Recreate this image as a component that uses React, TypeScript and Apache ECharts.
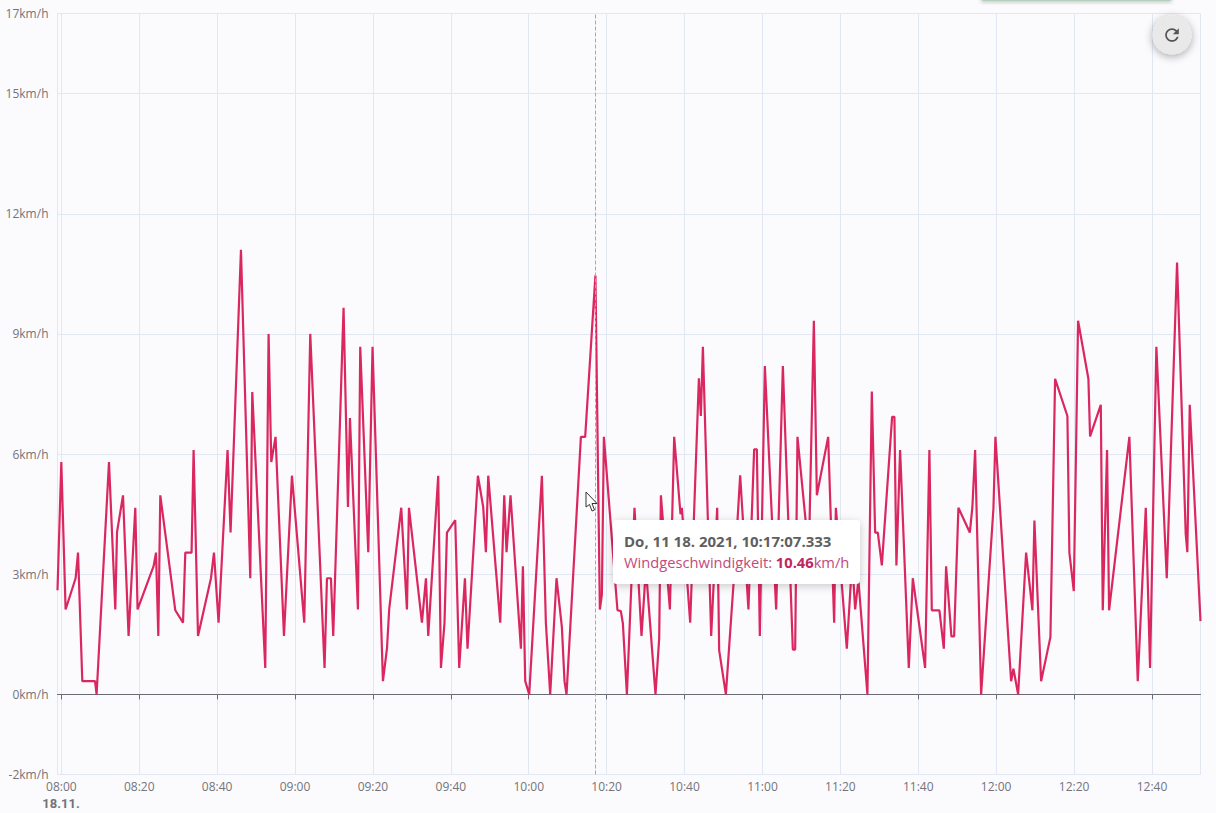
import React, { useEffect, useRef } from "react";
import * as echarts from "echarts";

// minutes after 08:00
const minutes = [
  -0.98, 0, 1.1, 3.67, 4.29, 5.39, 8.65, 9.06, 12.24, 13.86, 14.3, 15.84, 17.27, 18.99, 19.58, 23.69, 24.31, 24.9, 25.41,
  29.26, 31.24, 31.83, 33.44, 33.96, 35.09, 38.42, 39.19, 40.37, 42.68, 43.45, 46.12, 48.51, 49.02, 52.36, 53.21, 53.9,
  55.0, 57.16, 59.21, 62.37, 63.91, 67.58, 68.2, 69.22, 69.81, 72.46, 73.59, 74.1, 76.15, 76.74, 78.8, 79.9, 82.57,
  83.6, 84.19, 87.27, 88.73, 89.25, 92.58, 93.61, 94.2, 96.76, 97.46, 98.38, 99.0, 101.13, 102.15, 103.62, 104.28,
  106.95, 108.31, 109.0, 109.6, 112.68, 113.71, 114.3, 115.32, 117.99, 118.5, 119.1, 120.12, 123.38, 124.4, 125.51,
  127.13, 128.51, 129.18, 129.7, 133.39, 134.49, 137.12, 138.26, 138.78, 139.29, 142.78, 143.65, 144.17, 145.2, 147.15,
  148.95, 150.08, 152.54, 153.49, 153.93, 156.24, 157.34, 158.96, 159.32, 161.45, 163.68, 164.19, 164.71, 166.84,
  168.38, 168.89, 170.61, 172.99, 174.28, 176.4, 177.87, 178.56, 179.33, 180.62, 183.52, 185.24, 187.8, 188.4, 188.99,
  191.92, 193.2, 193.97, 196.87, 198.41, 198.85, 201.66, 203.03, 203.8, 204.64, 206.95, 208.08, 208.93, 209.62, 210.65,
  213.29, 213.88, 214.39, 215.34, 217.57, 218.6, 221.76, 222.86, 223.48, 225.43, 226.56, 227.15, 228.51, 229.21,
  230.31, 233.24, 233.9, 234.6, 236.14, 239.3, 239.81, 243.84, 244.43, 245.64, 247.69, 249.31, 249.82, 251.54, 253.93,
  255.13, 258.29, 258.8, 259.93, 261.03, 263.68, 264.11, 266.86, 267.37, 268.47, 268.99, 274.2, 276.35, 278.41, 279.51,
  281.13, 283.8, 286.44, 288.67, 289.08, 289.7, 292.46,
];

// km/h
const windSpeed = [
  2.6, 5.8, 2.12, 2.9, 3.54, 0.33, 0.33, 0, 5.8, 2.12, 4.05, 4.97, 1.46, 4.66, 2.12, 3.2, 3.54, 1.46, 4.97,
  2.1, 1.79, 3.54, 3.54, 6.1, 1.46, 2.9, 3.54, 1.79, 6.1, 4.04, 11.1, 2.9, 7.55, 0.66, 9.0, 5.8,
  6.43, 1.46, 5.46, 1.79, 9.0, 0.66, 2.9, 2.9, 1.46, 9.65, 4.68, 6.9, 2.12, 8.68, 3.55, 8.68, 0.33,
  1.14, 2.14, 4.66, 2.12, 4.66, 1.79, 2.9, 1.46, 5.46, 0.66, 1.8, 4.04, 4.35, 0.66, 2.9, 1.14,
  5.46, 4.68, 3.55, 5.46, 1.79, 4.97, 3.55, 4.97, 1.14, 3.2, 0.33, 0, 5.46, 1.79, 0,
  2.9, 1.68, 0.33, 0, 6.43, 6.43, 10.46, 2.12, 2.5, 6.43, 2.1, 2.08, 1.77, 0, 4.66,
  1.46, 3.14, 0, 1.4, 4.97, 2.12, 6.43, 4.5, 4.66, 1.79, 7.89, 6.95, 8.68, 1.46,
  4.66, 1.1, 0, 3.35, 5.47, 2.12, 6.12, 6.12, 1.46, 8.2, 2.12, 8.2, 1.12, 1.12, 6.43,
  3.5, 9.33, 4.97, 6.43, 1.79, 4.66, 1.14, 3.35, 2.12, 2.85, 0, 7.56, 4.04, 4.04, 3.22,
  6.93, 6.93, 3.22, 6.1, 0.66, 2.9, 0.66, 6.1, 2.1, 2.1, 1.14, 3.2, 1.45, 1.45,
  4.66, 4.04, 4.68, 6.1, 0, 4.64, 6.43, 0.33, 0.64, 0, 3.54, 2.1, 4.34, 0.33, 1.43,
  7.88, 6.95, 3.54, 2.58, 9.33, 7.88, 6.44, 7.23, 2.1, 6.1, 2.1, 6.43, 0.33, 4.66, 0.66,
  8.68, 2.9, 10.78, 4.0, 3.55, 7.23, 1.83,
];

const tickMinutes = [0, 20, 40, 60, 80, 100, 120, 140, 160, 180, 200, 220, 240, 260, 280];
const tickLabels = ["08:00", "08:20", "08:40", "09:00", "09:20", "09:40", "10:00", "10:20", "10:40", "11:00", "11:20", "11:40", "12:00", "12:20", "12:40"];
const dateLabel = "18.11.";
const yTicks = [-2, 0, 3, 6, 9, 12, 15, 17];
const hoverMinute = 137.12;
const tooltipTitle = "Do, 11 18. 2021, 10:17:07.333";
const tooltipName = "Windgeschwindigkeit: ";
const tooltipValue = "10.46";
const unit = "km/h";

const FONT = '"Open Sans", "Noto Sans", sans-serif';
const BG = "#fbfbfd";
const GRID = "#e2e8f3";
const LABEL = "#73737b";

echarts.graphic.registerShape(
  "refreshIcon",
  echarts.graphic.extendPath(
    "M17.65 6.35C16.2 4.9 14.21 4 12 4c-4.42 0-7.99 3.58-7.99 8s3.57 8 7.99 8c3.73 0 6.84-2.55 7.73-6h-2.08c-.82 2.33-3.04 4-5.65 4-3.31 0-6-2.69-6-6s2.69-6 6-6c1.66 0 3.14.69 4.22 1.78L13 11h7V4l-2.35 2.35z",
    {}
  )
);

export default function App() {
  const ref = useRef<HTMLDivElement>(null);
  useEffect(() => {
    const chart = echarts.init(ref.current!, null, { renderer: "svg" });
    chart.setOption({
      animation: false,
      backgroundColor: BG,
      textStyle: { fontFamily: FONT },
      grid: { show: true, left: 57.5, top: 13.5, width: 1143, height: 761, borderColor: GRID, borderWidth: 1, backgroundColor: "transparent" },
      xAxis: [
        {
          type: "value",
          position: "bottom",
          min: -0.98,
          max: 292.46,
          axisLine: { show: false, onZero: false },
          axisTick: { show: false, customValues: tickMinutes },
          splitLine: { show: true, lineStyle: { color: GRID, width: 1 } },
          axisLabel: {
            customValues: tickMinutes,
            margin: 6,
            color: LABEL,
            fontSize: 12,
            fontFamily: FONT,
            hideOverlap: false,
            formatter: (v: number) => tickLabels[tickMinutes.indexOf(v)],
          },
        },
        {
          type: "value",
          position: "bottom",
          min: -0.98,
          max: 292.46,
          axisLine: { show: true, onZero: true, lineStyle: { color: "#6b6b73", width: 1 } },
          axisTick: { show: true, length: 5, customValues: tickMinutes, lineStyle: { color: "#6b6b73", width: 1 } },
          splitLine: { show: false },
          axisLabel: { show: false },
        },
      ],
      yAxis: {
        type: "value",
        min: -2,
        max: 17,
        axisLine: { show: false },
        axisTick: { show: false, customValues: yTicks },
        splitLine: { show: true, lineStyle: { color: GRID, width: 1 } },
        axisLabel: {
          customValues: yTicks,
          margin: 9,
          color: LABEL,
          fontSize: 12,
          fontFamily: FONT,
          formatter: (v: number) => `${v}${unit}`,
        },
      },
      series: [
        {
          type: "line",
          xAxisIndex: 0,
          yAxisIndex: 0,
          data: minutes.map((m, i) => [m, windSpeed[i]]),
          showSymbol: false,
          smooth: false,
          clip: true,
          lineStyle: { color: "#db2760", width: 2.2 },
          markLine: {
            silent: true,
            symbol: "none",
            label: { show: false },
            lineStyle: { color: "#a9a9ab", type: "dashed", width: 1 },
            data: [{ xAxis: hoverMinute }],
          },
        },
      ],
      graphic: [
        {
          type: "text",
          z: 5,
          x: 61,
          y: 803,
          style: { text: dateLabel, fill: LABEL, fontFamily: "Roboto, sans-serif", fontSize: 13, fontWeight: "bold", align: "center", verticalAlign: "middle" },
        },
        { type: "rect", z: 50, shape: { x: 981, y: -3, width: 191, height: 4, r: 2 }, style: { fill: "#b5cfbd", shadowBlur: 4, shadowColor: "rgba(0,0,0,0.25)", shadowOffsetY: 1 } },
        { type: "circle", z: 50, shape: { cx: 1172, cy: 35, r: 19.5 }, style: { fill: "#e9e9ea", shadowBlur: 8, shadowColor: "rgba(0,0,0,0.35)", shadowOffsetY: 2 } },
        { type: "refreshIcon", z: 51, x: 1161.8, y: 24.8, scaleX: 0.85, scaleY: 0.85, style: { fill: "#555" } },
        { type: "rect", z: 50, shape: { x: 613, y: 520, width: 247, height: 64, r: 4 }, style: { fill: "#fff", shadowBlur: 8, shadowColor: "rgba(0,0,0,0.2)", shadowOffsetY: 2 } },
        {
          type: "text",
          z: 51,
          x: 624,
          y: 533,
          style: { text: tooltipTitle, fill: "#5f5f5f", fontFamily: FONT, fontSize: 15, fontWeight: "bold" },
        },
        {
          type: "text",
          z: 51,
          x: 624,
          y: 554,
          style: {
            text: `{n|${tooltipName}}{v|${tooltipValue}}{n|${unit}}`,
            rich: {
              n: { fill: "#c24a7c", fontFamily: FONT, fontSize: 14.7 },
              v: { fill: "#c0275f", fontFamily: FONT, fontSize: 14.7, fontWeight: "bold" },
            },
          },
        },
        {
          type: "polygon",
          z: 52,
          shape: { points: [[586, 492], [586, 507], [589.5, 504.5], [592, 511], [594.5, 510], [592, 503.5], [597, 503.5]] },
          style: { fill: "#fff", stroke: "#333", lineWidth: 1 },
        },
      ],
    });
    return () => chart.dispose();
  }, []);
  return <div ref={ref} style={{ position: "absolute", left: 0, top: 0, width: 1216, height: 813 }} />;
}
